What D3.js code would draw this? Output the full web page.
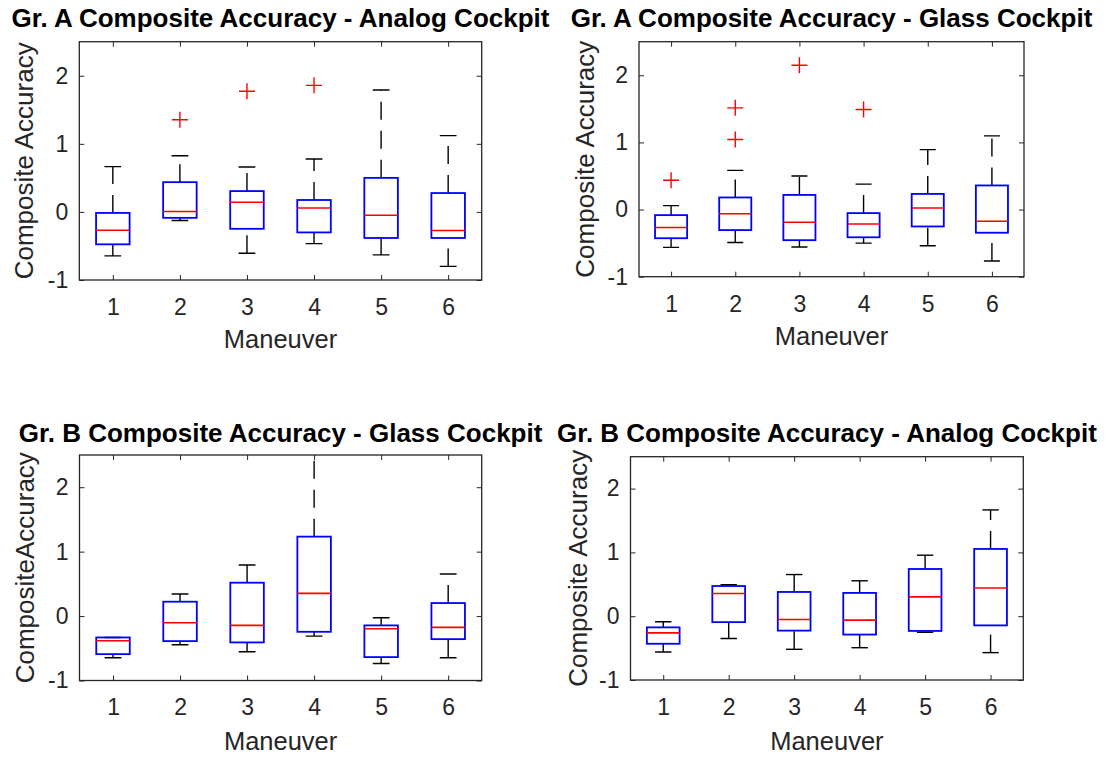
<!DOCTYPE html>
<html>
<head>
<meta charset="utf-8">
<script src="https://cdn.jsdelivr.net/npm/d3@7/dist/d3.min.js"></script>
<style>
  html, body { margin: 0; padding: 0; background: #fff; }
  svg { display: block; }
  text { font-family: "Liberation Sans", Arial, Helvetica, sans-serif; }
</style>
</head>
<body>
<svg id="fig" width="1110" height="757"></svg>
<script>
// Shared axis settings
const maneuvers = [1, 2, 3, 4, 5, 6];
const yTickValues = [-1, 0, 1, 2];
const yDomain = [-1, 2.5];
const xDomain = [0.5, 6.5];

// Group A, analog cockpit: box-plot summaries per maneuver
const aAnalogLow  = [-0.646, -0.126, -0.607, -0.466, -0.631, -0.800];
const aAnalogQ1   = [-0.476, -0.087, -0.248, -0.301, -0.383, -0.383];
const aAnalogMed  = [-0.270,  0.005,  0.141,  0.058, -0.049, -0.272];
const aAnalogQ3   = [-0.015,  0.437,  0.306,  0.175,  0.500,  0.277];
const aAnalogHigh = [ 0.665,  0.825,  0.660,  0.777,  1.790,  1.121];
const aAnalogOut  = [[2, 1.354], [3, 1.772], [4, 1.859]];

// Group A, glass cockpit
const aGlassLow  = [-0.563, -0.490, -0.558, -0.500, -0.539, -0.767];
const aGlassQ1   = [-0.427, -0.306, -0.456, -0.413, -0.252, -0.345];
const aGlassMed  = [-0.267, -0.063, -0.189, -0.214,  0.024, -0.175];
const aGlassQ3   = [-0.083,  0.180,  0.218, -0.053,  0.233,  0.359];
const aGlassHigh = [ 0.058,  0.583,  0.500,  0.379,  0.893,  1.097];
const aGlassOut  = [[1, 0.437], [2, 1.515], [2, 1.044], [3, 2.150], [4, 1.490]];

// Group B, glass cockpit
const bGlassLow  = [-0.648, -0.446, -0.554, -0.311, -0.736, -0.648];
const bGlassQ1   = [-0.591, -0.389, -0.409, -0.244, -0.637, -0.358];
const bGlassMed  = [-0.383, -0.104, -0.145,  0.352, -0.197, -0.176];
const bGlassQ3   = [-0.332,  0.223,  0.518,  1.233, -0.145,  0.202];
const bGlassHigh = [-0.332,  0.342,  0.793,  2.800, -0.026,  0.653];
const bGlassOut  = [];

// Group B, analog cockpit
const bAnalogLow  = [-0.560, -0.350, -0.519, -0.494, -0.252, -0.571];
const bAnalogQ1   = [-0.432, -0.093, -0.226, -0.288, -0.231, -0.144];
const bAnalogMed  = [-0.262,  0.355, -0.051, -0.062,  0.303,  0.442];
const bAnalogQ3   = [-0.175,  0.473,  0.380,  0.365,  0.740,  1.054];
const bAnalogHigh = [-0.087,  0.494,  0.653,  0.555,  0.956,  1.666];
const bAnalogOut  = [];

// Panel layout (pixel frame of each axes box and its labels)
const panels = [
  { title: "Gr. A Composite Accuracy - Analog Cockpit", ylabel: "Composite Accuracy",
    left: 79.3, right: 481.7, top: 41.7, bottom: 280, titleY: 27, ylabelX: 33, maneuverY: 348,
    low: aAnalogLow, q1: aAnalogQ1, med: aAnalogMed, q3: aAnalogQ3, high: aAnalogHigh, out: aAnalogOut },
  { title: "Gr. A Composite Accuracy - Glass Cockpit", ylabel: "Composite Accuracy",
    left: 639, right: 1024, top: 41.7, bottom: 276.7, titleY: 27, ylabelX: 594, maneuverY: 345,
    low: aGlassLow, q1: aGlassQ1, med: aGlassMed, q3: aGlassQ3, high: aGlassHigh, out: aGlassOut },
  { title: "Gr. B Composite Accuracy - Glass Cockpit", ylabel: "CompositeAccuracy",
    left: 79.5, right: 481.7, top: 455, bottom: 680.5, titleY: 442, ylabelX: 34, maneuverY: 750,
    low: bGlassLow, q1: bGlassQ1, med: bGlassMed, q3: bGlassQ3, high: bGlassHigh, out: bGlassOut },
  { title: "Gr. B Composite Accuracy - Analog Cockpit", ylabel: "Composite Accuracy",
    left: 630.5, right: 1023.3, top: 456.7, bottom: 680, titleY: 442, ylabelX: 587, maneuverY: 750,
    low: bAnalogLow, q1: bAnalogQ1, med: bAnalogMed, q3: bAnalogQ3, high: bAnalogHigh, out: bAnalogOut }
];

const axisColor = "#262626";
const boxHalf = 0.25;   // box half-width in maneuver units
const capHalf = 0.125;  // whisker cap half-width
const plusHalf = 8;     // outlier marker half-size, px

const svg = d3.select("#fig");

panels.forEach((p, i) => {
  const x = d3.scaleLinear().domain(xDomain).range([p.left, p.right]);
  const y = d3.scaleLinear().domain(yDomain).range([p.bottom, p.top]);
  const g = svg.append("g");

  const clipId = "clip" + i;
  svg.append("clipPath").attr("id", clipId)
    .append("rect")
    .attr("x", p.left).attr("y", p.top)
    .attr("width", p.right - p.left).attr("height", p.bottom - p.top);

  const plot = g.append("g").attr("clip-path", `url(#${clipId})`);

  const boxes = maneuvers.map((m, k) => ({
    m, low: p.low[k], q1: p.q1[k], med: p.med[k], q3: p.q3[k], high: p.high[k]
  }));

  // whiskers: dashed, each drawn from its lower end upward
  plot.selectAll(".whisker-up").data(boxes).join("line")
    .attr("x1", d => x(d.m)).attr("x2", d => x(d.m))
    .attr("y1", d => y(d.q3)).attr("y2", d => y(d.high))
    .attr("stroke", "#000").attr("stroke-width", 1.4)
    .attr("stroke-dasharray", "18,11");
  plot.selectAll(".whisker-down").data(boxes).join("line")
    .attr("x1", d => x(d.m)).attr("x2", d => x(d.m))
    .attr("y1", d => y(d.low)).attr("y2", d => y(d.q1))
    .attr("stroke", "#000").attr("stroke-width", 1.4)
    .attr("stroke-dasharray", "18,11");

  // whisker caps
  ["low", "high"].forEach(key => {
    plot.selectAll(".cap-" + key).data(boxes).join("line")
      .attr("x1", d => x(d.m - capHalf)).attr("x2", d => x(d.m + capHalf))
      .attr("y1", d => y(d[key])).attr("y2", d => y(d[key]))
      .attr("stroke", "#000").attr("stroke-width", 1.4);
  });

  // interquartile boxes
  plot.selectAll(".iqr").data(boxes).join("rect")
    .attr("x", d => x(d.m - boxHalf))
    .attr("width", d => x(d.m + boxHalf) - x(d.m - boxHalf))
    .attr("y", d => y(d.q3))
    .attr("height", d => y(d.q1) - y(d.q3))
    .attr("fill", "none").attr("stroke", "#0000ff").attr("stroke-width", 1.8);

  // medians
  plot.selectAll(".median").data(boxes).join("line")
    .attr("x1", d => x(d.m - boxHalf)).attr("x2", d => x(d.m + boxHalf))
    .attr("y1", d => y(d.med)).attr("y2", d => y(d.med))
    .attr("stroke", "#ff0000").attr("stroke-width", 1.6);

  // outliers as red plus signs
  plot.selectAll(".outlier").data(p.out).join("path")
    .attr("d", d => {
      const cx = x(d[0]), cy = y(d[1]);
      return `M${cx - plusHalf},${cy}H${cx + plusHalf}M${cx},${cy - plusHalf}V${cy + plusHalf}`;
    })
    .attr("fill", "none").attr("stroke", "#ff0000").attr("stroke-width", 1.4);

  // axes with inward ticks on all four sides
  const styleAxis = sel => {
    sel.select(".domain").remove();
    sel.selectAll(".tick line").attr("stroke", axisColor).attr("stroke-width", 1);
    sel.selectAll(".tick text").attr("fill", axisColor)
      .style("font-size", "23px")
      .style("font-family", '"Liberation Sans", Arial, sans-serif');
  };
  g.append("g").attr("transform", `translate(0,${p.bottom})`)
    .call(d3.axisBottom(x).tickValues(maneuvers).tickSizeInner(-5).tickSizeOuter(0)
      .tickPadding(18.5).tickFormat(d => String(d)))
    .call(styleAxis);
  g.append("g").attr("transform", `translate(0,${p.top})`)
    .call(d3.axisTop(x).tickValues(maneuvers).tickSizeInner(-5).tickSizeOuter(0).tickFormat(""))
    .call(styleAxis);
  g.append("g").attr("transform", `translate(${p.left},0)`)
    .call(d3.axisLeft(y).tickValues(yTickValues).tickSizeInner(-5).tickSizeOuter(0)
      .tickPadding(11).tickFormat(d => String(d)))
    .call(styleAxis);
  g.append("g").attr("transform", `translate(${p.right},0)`)
    .call(d3.axisRight(y).tickValues(yTickValues).tickSizeInner(-5).tickSizeOuter(0).tickFormat(""))
    .call(styleAxis);

  // axes frame
  g.append("rect")
    .attr("x", p.left).attr("y", p.top)
    .attr("width", p.right - p.left).attr("height", p.bottom - p.top)
    .attr("fill", "none").attr("stroke", axisColor).attr("stroke-width", 1.3);

  const cx = (p.left + p.right) / 2;
  const cy = (p.top + p.bottom) / 2;

  g.append("text")
    .attr("x", cx).attr("y", p.titleY)
    .attr("text-anchor", "middle")
    .style("font-size", "26px").style("font-weight", "bold")
    .attr("fill", "#000")
    .text(p.title);

  g.append("text")
    .attr("x", cx).attr("y", p.maneuverY)
    .attr("text-anchor", "middle")
    .style("font-size", "25.5px")
    .attr("fill", axisColor)
    .text("Maneuver");

  g.append("text")
    .attr("transform", `translate(${p.ylabelX},${cy}) rotate(-90)`)
    .attr("text-anchor", "middle")
    .style("font-size", "26px")
    .attr("fill", axisColor)
    .text(p.ylabel);
});
</script>
</body>
</html>
